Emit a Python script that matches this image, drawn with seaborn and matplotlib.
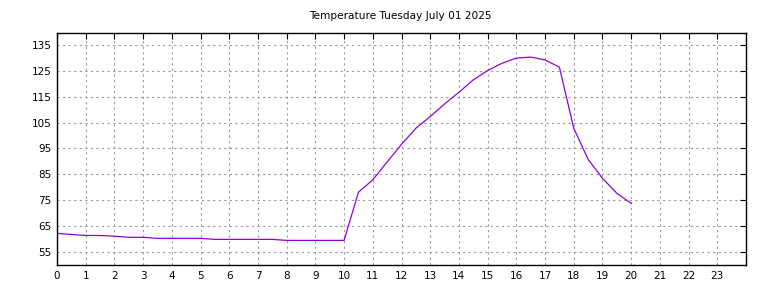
import matplotlib
matplotlib.use("Agg")
import matplotlib.pyplot as plt
import seaborn as sns
import pandas as pd

hours = [0, 0.5, 1, 1.5, 2, 2.5, 3, 3.5, 4, 4.5, 5, 5.5, 6, 6.5, 7, 7.5, 8, 8.5, 9, 9.5, 10,
         10.5, 11, 11.5, 12, 12.5, 13, 13.5, 14, 14.5, 15, 15.5, 16, 16.5, 17, 17.5, 18,
         18.5, 19, 19.5, 20]
temps = [62.2, 61.8, 61.4, 61.4, 61.1, 60.7, 60.7, 60.3, 60.3, 60.3, 60.3, 59.9, 59.9, 59.9,
         59.9, 59.9, 59.5, 59.5, 59.5, 59.5, 59.5,
         78.1, 82.9, 89.8, 96.6, 102.8, 107.3, 112.2, 116.7, 121.5, 125.1, 127.9, 129.9,
         130.3, 129.2, 126.4, 102.8, 90.8, 83.5, 77.7, 73.8]
xticks = list(range(0, 24))
yticks = [55, 65, 75, 85, 95, 105, 115, 125, 135]
title = "Temperature Tuesday July 01 2025"

df = pd.DataFrame({"hour": hours, "temp": temps})

sns.set_style("white")
plt.rcParams["font.family"] = ["DejaVu Sans"]

fig = plt.figure(figsize=(7.68, 2.88), dpi=100)
ax = fig.add_axes([57/768, 1-265/288, (746-57)/768, (265-33)/288])
sns.lineplot(data=df, x="hour", y="temp", ax=ax, color="#9400D3", linewidth=0.9)

ax.set_xlim(0, 24)
ax.set_ylim(50, 139.6)
ax.set_xticks(xticks)
ax.set_yticks(yticks)
ax.tick_params(axis="both", direction="in", length=4, width=0.8, labelsize=7.5,
               top=True, right=True, colors="black", pad=4)
ax.grid(True, color="#999999", linestyle=(0, (2, 3)), linewidth=0.8)
for s in ax.spines.values():
    s.set_color("black")
    s.set_linewidth(1.0)
ax.set_xlabel("")
ax.set_ylabel("")
fig.text(400/768, 1-16/288, title, ha="center", va="center", fontsize=7.6, color="black")

fig.savefig("out.png", dpi=100)
